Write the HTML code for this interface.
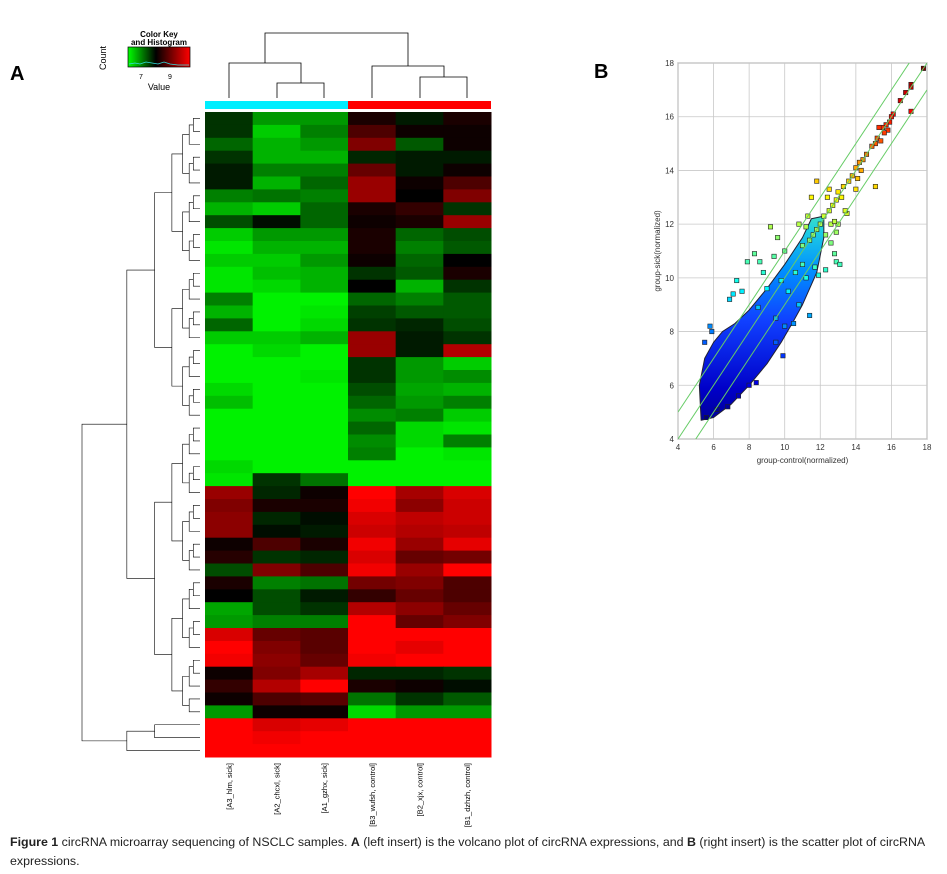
<!DOCTYPE html>
<html><head><meta charset="utf-8">
<style>
body{margin:0;background:#fff;width:947px;height:874px;overflow:hidden;font-family:"Liberation Sans",sans-serif}
svg{position:absolute;left:0;top:0}
.cap{position:absolute;left:10px;top:833px;width:945px;font-size:12.4px;line-height:19px;color:#222;white-space:nowrap}
</style></head><body>
<svg id="fig" width="947" height="874">
<text x="10" y="80" font-size="20" font-weight="bold">A</text>
<text x="594" y="78" font-size="20" font-weight="bold">B</text>
<g>
<defs>
<linearGradient id="kg" x1="0" x2="1" y1="0" y2="0"><stop offset="0" stop-color="#00ff00"/><stop offset="0.45" stop-color="#000"/><stop offset="1" stop-color="#ff0000"/></linearGradient>
<linearGradient id="jet" gradientUnits="userSpaceOnUse" x1="0" y1="440" x2="0" y2="100">
<stop offset="0" stop-color="#00007f"/><stop offset="0.15" stop-color="#0000c8"/><stop offset="0.35" stop-color="#1040ff"/><stop offset="0.5" stop-color="#0090ff"/><stop offset="0.62" stop-color="#20d0e0"/><stop offset="0.75" stop-color="#80ff80"/><stop offset="0.88" stop-color="#ffff00"/><stop offset="1" stop-color="#ff6000"/></linearGradient>
<clipPath id="pc"><rect x="678" y="63" width="249" height="376"/></clipPath>
</defs>
<text x="159" y="37" font-size="8" font-weight="bold" text-anchor="middle">Color Key</text>
<text x="159" y="45" font-size="8" font-weight="bold" text-anchor="middle">and Histogram</text>
<rect x="128" y="47" width="62" height="20" fill="url(#kg)" stroke="#000" stroke-width="0.7"/>
<polyline points="129,64 135,63 140,64 146,62 152,63 158,64 164,62 170,64 178,65 189,65" fill="none" stroke="#33dddd" stroke-width="0.8"/>
<text transform="translate(106,58) rotate(-90)" font-size="9" text-anchor="middle">Count</text>
<text x="141" y="79" font-size="7" text-anchor="middle">7</text>
<text x="170" y="79" font-size="7" text-anchor="middle">9</text>
<text x="159" y="90" font-size="9" text-anchor="middle">Value</text>
</g>
<rect x="205" y="101" width="143" height="8" fill="#00eeff"/>
<rect x="348" y="101" width="143" height="8" fill="#ff0000"/>
<g id="topdend" stroke="#000" stroke-width="0.8" fill="none">
<path d="M229,98V63H301V83M277,98V83H324V98M265,63V33H408V66M372,98V66H444V77M420,98V77H467V98"/>
</g>
<g id="heat"></g>
<g id="rowdend" stroke="#000" stroke-width="0.6" fill="none"></g>
<g id="collabels"></g>
<g id="scatter"></g>
</svg>
<div class="cap"><b>Figure 1</b> circRNA microarray sequencing of NSCLC samples. <b>A</b> (left insert) is the volcano plot of circRNA expressions, and <b>B</b> (right insert) is the scatter plot of circRNA<br>expressions.</div>
<script>
const NS="http://www.w3.org/2000/svg";
const samples=["[A3_hlm, sick]","[A2_chcxl, sick]","[A1_gzhx, sick]","[B3_wufsh, control]","[B2_xjx, control]","[B1_dzhzh, control]"];
const heatRows=[
[-0.2,-0.6,-0.6,0.1,-0.1,0.1],[-0.2,-0.8,-0.5,0.3,0.05,0.05],[-0.4,-0.7,-0.6,0.5,-0.35,0.05],[-0.2,-0.7,-0.7,-0.15,-0.1,-0.1],
[-0.1,-0.5,-0.5,0.4,-0.1,0.05],[-0.1,-0.7,-0.4,0.6,0.05,0.3],[-0.5,-0.45,-0.5,0.6,0,0.5],[-0.7,-0.8,-0.4,0.1,0.2,-0.2],
[-0.3,-0.05,-0.4,0.05,0.1,0.6],[-0.8,-0.6,-0.6,0.1,-0.4,-0.3],[-0.9,-0.7,-0.7,0.1,-0.5,-0.35],[-0.8,-0.8,-0.6,0.05,-0.4,0],
[-0.9,-0.75,-0.7,-0.2,-0.35,0.1],[-0.9,-0.85,-0.7,0,-0.7,-0.2],[-0.5,-0.95,-0.95,-0.4,-0.5,-0.35],[-0.7,-0.95,-0.9,-0.25,-0.35,-0.35],
[-0.4,-0.95,-0.85,-0.2,-0.15,-0.3],[-0.8,-0.8,-0.7,0.6,-0.1,-0.2],[-0.95,-0.85,-0.95,0.6,-0.1,0.7],[-0.95,-0.95,-0.95,-0.2,-0.6,-0.8],
[-0.95,-0.95,-0.9,-0.2,-0.6,-0.55],[-0.85,-0.95,-0.95,-0.3,-0.65,-0.7],[-0.75,-0.95,-0.95,-0.4,-0.6,-0.5],[-0.95,-0.95,-0.95,-0.55,-0.5,-0.8],
[-0.95,-0.95,-0.95,-0.4,-0.85,-0.9],[-0.95,-0.95,-0.95,-0.55,-0.85,-0.5],[-0.95,-0.95,-0.95,-0.5,-0.95,-0.9],[-0.85,-0.95,-0.95,-0.95,-0.95,-0.95],
[-0.9,-0.2,-0.45,-0.95,-0.95,-0.95],[0.6,-0.15,0.05,1,0.65,0.85],[0.5,0.1,0.1,0.95,0.55,0.8],[0.55,-0.15,-0.05,0.85,0.75,0.8],
[0.55,-0.05,-0.1,0.8,0.7,0.75],[0.05,0.3,0.1,0.95,0.6,0.9],[0.15,-0.2,-0.15,0.85,0.4,0.45],[-0.3,0.5,0.3,0.95,0.6,1],
[0.1,-0.5,-0.45,0.45,0.5,0.3],[0,-0.3,-0.1,0.2,0.4,0.3],[-0.65,-0.3,-0.2,0.7,0.55,0.4],[-0.6,-0.5,-0.5,1,0.4,0.5],
[0.85,0.4,0.35,1,1,1],[1,0.5,0.35,1,0.9,1],[0.95,0.55,0.4,0.95,1,1],[0.05,0.5,0.65,-0.15,-0.15,-0.2],
[0.2,0.7,1,0.1,0.05,-0.05],[0.05,0.3,0.35,-0.45,-0.2,-0.35],[-0.6,0.05,0.05,-0.85,-0.6,-0.6],[1,0.85,0.9,1,1,1],
[1,0.95,1,1,1,1],[1,1,1,1,1,1]];
const xTicks=[4,6,8,10,12,14,16,18];
const yTicks=[4,6,8,10,12,14,16,18];
const ptX=[17.8,17.1,17.1,16.5,16.8,17.1,16.1,16.0,15.9,15.7,15.5,15.3,15.8,15.6,15.2,15.1,14.9,15.1,14.6,14.4,14.2,14.0,14.3,13.8,13.6,14.0,13.3,13.0,12.9,13.2,12.7,12.5,12.4,11.8,11.5,12.6,13.0,12.8,12.2,12.0,11.8,11.6,11.4,11.0,9.2,9.6,10.0,9.4,7.9,8.3,8.6,12.6,12.3,12.9,13.1,12.8,11.7,11.9,12.3,7.3,6.9,7.1,7.6,10.8,11.4,10.0,10.5,9.5,9.9,5.8,5.5,5.9,8.4,6.2,5.6,6.8,7.4,8.0,11.0,11.2,10.6,10.2,9.8,9.0,8.8,12.5,13.5,13.4,14.1,15.4,11.2,10.8,11.3,12.9,8.5,9.5];
const ptY=[17.8,17.2,17.1,16.6,16.9,16.2,16.1,16.0,15.8,15.7,15.6,15.6,15.5,15.4,15.2,15.0,14.9,13.4,14.6,14.4,14.3,14.1,14.0,13.8,13.6,13.3,13.4,13.2,12.9,13.0,12.7,12.5,13.0,13.6,13.0,12.0,12.0,12.1,12.3,12.0,11.8,11.6,11.4,11.2,11.9,11.5,11.0,10.8,10.6,10.9,10.6,11.3,11.6,10.6,10.5,10.9,10.4,10.1,10.3,9.9,9.2,9.4,9.5,9.0,8.6,8.2,8.3,7.6,7.1,8.2,7.6,8.0,6.1,5.1,4.8,5.2,5.6,6.0,10.5,10.0,10.2,9.5,9.9,9.6,10.2,13.3,12.4,12.5,13.7,15.1,11.9,12.0,12.3,11.7,8.9,8.5];
const cloudX=[5.3,6,7,8,9,9.8,10.5,11,11.8,12.2,12.2,11.5,11,10,9,8,7.2,6.5,6,5.5,5.2];
const cloudY=[4.7,4.8,5.3,6.0,6.8,7.6,8.4,9.0,10.2,11.5,12.3,12.2,11.5,10.5,9.6,8.8,8.3,8.0,7.6,7.0,6.0];

function mk(tag,attrs,parent){const e=document.createElementNS(NS,tag);for(const k in attrs)e.setAttribute(k,attrs[k]);parent.appendChild(e);return e;}
function col(v){const c=Math.round(Math.min(1,Math.abs(v))*255);return v>=0?`rgb(${c},0,0)`:`rgb(0,${c},0)`;}

const heat=document.getElementById('heat');
const hx0=205,hx1=491,hy0=112,hy1=757;
const cw=(hx1-hx0)/samples.length, rh=(hy1-hy0)/heatRows.length;
heatRows.forEach((row,i)=>row.forEach((v,j)=>{
 const r=mk('rect',{x:hx0+j*cw,y:hy0+i*rh,width:cw+0.5,height:rh+0.5,fill:col(v)},heat);
 
 
}));
const cl=document.getElementById('collabels');
samples.forEach((s,j)=>{
 const t=mk('text',{transform:`translate(${hx0+(j+0.5)*cw+3},763) rotate(-90)`,'font-size':'7.5','text-anchor':'end'},cl);
 t.textContent=s;
 
 
});
const rd=document.getElementById('rowdend');
let d="";
function node(lo,hi,x){
 const yc=(lo+hi+1)/2*rh+hy0;
 if(hi-lo<1){d+=`M${x},${yc}H200`;return yc;}
 let mid=Math.floor((lo+hi)/2);
 if(lo===0&&hi===heatRows.length-1)mid=46;
 const nx=x+(200-x)*0.38;
 const a=node(lo,mid,nx),b=node(mid+1,hi,nx);
 d+=`M${nx},${a}H${x}V${b}H${nx}`;
 return (a+b)/2;
}
node(0,heatRows.length-1,82);
mk('path',{d:d},rd);

const sc=document.getElementById('scatter');
const px0=678,px1=927,py0=439,py1=63;
const sx=v=>px0+(v-4)*(px1-px0)/14, sy=v=>py0-(v-4)*(py0-py1)/14;
mk('rect',{x:px0,y:py1,width:px1-px0,height:py0-py1,fill:'#fff',stroke:'#333','stroke-width':0.8},sc);
xTicks.forEach(t=>{
 mk('line',{x1:sx(t),x2:sx(t),y1:py1,y2:py0,stroke:'#c8c8c8','stroke-width':0.8},sc);
 const tx=mk('text',{x:sx(t),y:py0+11,'font-size':'8','text-anchor':'middle',fill:'#333'},sc);tx.textContent=t;
 
 
});
yTicks.forEach(t=>{
 mk('line',{x1:px0,x2:px1,y1:sy(t),y2:sy(t),stroke:'#c8c8c8','stroke-width':0.8},sc);
 const tx=mk('text',{x:px0-4,y:sy(t)+3,'font-size':'8','text-anchor':'end',fill:'#333'},sc);tx.textContent=t;
 
 
});
const cg=mk('g',{'clip-path':'url(#pc)'},sc);
const poly=cloudX.map((x,i)=>sx(x)+','+sy(cloudY[i])).join(' ');
const cloud=mk('polygon',{points:poly,fill:'url(#jet)',stroke:'#223','stroke-width':1,'stroke-linejoin':'round'},cg);


function jet(v){const t=Math.max(0,Math.min(1,(v-4.8)/13));
 const r=Math.max(0,Math.min(1,1.5-Math.abs(4*t-3))),g=Math.max(0,Math.min(1,1.5-Math.abs(4*t-2))),b=Math.max(0,Math.min(1,1.5-Math.abs(4*t-1)));
 return `rgb(${r*255|0},${g*255|0},${b*255|0})`;}
ptX.forEach((x,i)=>{
 const p=mk('rect',{x:sx(x)-2.2,y:sy(ptY[i])-2.2,width:4.4,height:4.4,fill:jet(ptY[i]),stroke:'#222','stroke-width':0.6},cg);
 
 
});
[-1,0,1].forEach(o=>{
 const l=mk('line',{x1:sx(4),y1:sy(4+o),x2:sx(18),y2:sy(18+o),stroke:'#66cc66','stroke-width':1},cg);
 
 
});
const xt=mk('text',{x:(px0+px1)/2,y:py0+24,'font-size':'8','text-anchor':'middle',fill:'#333'},sc);xt.textContent='group-control(normalized)';


const yt=mk('text',{transform:`translate(${px0-18},${(py0+py1)/2}) rotate(-90)`,'font-size':'8','text-anchor':'middle',fill:'#333'},sc);yt.textContent='group-sick(normalized)';


</script>
</body></html>
